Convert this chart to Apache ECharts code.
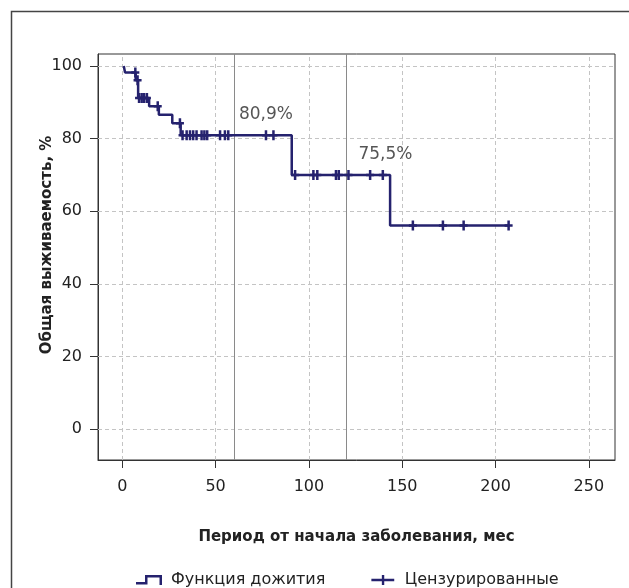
<!DOCTYPE html>
<html>
<head>
<meta charset="utf-8">
<script src="https://cdn.jsdelivr.net/npm/echarts@6/dist/echarts.min.js"></script>
<style>
html,body{margin:0;padding:0;background:#fff;}
#chart{width:629px;height:588px;}
</style>
</head>
<body>
<div id="chart"></div>
<script>
// Kaplan-Meier step function (event times, survival after event)
const kmTimes = [0.8, 1.5, 7.2, 8.5, 14.4, 19.6, 26.8, 31.3, 90.8, 143.5, 207];
const kmSurv  = [100, 98.2, 96.1, 91.2, 88.9, 86.6, 84.2, 80.9, 70.0, 56.1, 56.1];
// Censored observations
const censorTimes = [7.0, 8.2, 9.0, 10.4, 11.7, 13.2, 19.0, 30.9,
  32.3, 34.5, 36.3, 38.0, 39.8, 42.5, 44.0, 45.5, 52.4, 55.0, 56.8, 77.0, 81.0,
  92.6, 102.4, 104.5, 114.5, 116.0, 121.2, 132.8, 139.6,
  155.7, 171.8, 182.9, 207.0];
const censorSurv = [98.2, 96.1, 91.2, 91.2, 91.2, 91.2, 88.9, 84.2,
  80.9, 80.9, 80.9, 80.9, 80.9, 80.9, 80.9, 80.9, 80.9, 80.9, 80.9, 80.9, 80.9,
  70.0, 70.0, 70.0, 70.0, 70.0, 70.0, 70.0, 70.0,
  56.1, 56.1, 56.1, 56.1];
// Axis ticks
const xTicks = [0, 50, 100, 150, 200, 250];
const yTicks = [0, 20, 40, 60, 80, 100];
// Reference lines (months) and annotations
const refLines = [60, 120];
const annotTimes = [77, 141];
const annotVals = [86.5, 75.5];
const annotTexts = ['80,9%', '75,5%'];

const seriesNames = ['Функция дожития', 'Цензурированные'];
const xName = 'Период от начала заболевания, мес';
const yName = 'Общая выживаемость, %';

const navy = '#25226e';
const font = 'DejaVu Sans';
const plusPath = 'path://M2.75,0 H5.25 V3.75 H8 V6.25 H5.25 V10 H2.75 V6.25 H0 V3.75 H2.75 Z';
const stepIcon = 'path://M0,7 H9 V0 H26 V10 H23.5 V2.5 H11.5 V9.5 H0 Z';
const plusIcon = 'path://M11,0 H13.5 V4 H24 V6.5 H13.5 V10.5 H11 V6.5 H0 V4 H11 Z';

const chart = echarts.init(document.getElementById('chart'), null, {renderer: 'canvas'});

const gridLineData = xTicks.map(v => ({xAxis: v})).concat(yTicks.map(v => ({yAxis: v})));

chart.setOption({
  animation: false,
  backgroundColor: '#fff',
  textStyle: {fontFamily: font},
  grid: {left: 98, right: 14, top: 54, bottom: 128, show: true, borderColor: '#333', borderWidth: 1, backgroundColor: 'transparent', containLabel: false},
  xAxis: {
    type: 'value', min: -13, max: 264,
    name: xName, nameLocation: 'middle', nameGap: 70,
    nameTextStyle: {fontFamily: font, fontWeight: 'bold', fontSize: 15, color: '#222'},
    axisLine: {show: true, onZero: false, lineStyle: {color: '#333', width: 1}},
    axisTick: {show: true, inside: false, length: 8, customValues: xTicks, lineStyle: {color: '#333'}},
    axisLabel: {show: true, margin: 19, customValues: xTicks, fontFamily: font, fontSize: 16, color: '#222'},
    splitLine: {show: false}
  },
  yAxis: {
    type: 'value', min: -8.5, max: 103.3,
    axisLine: {show: true, onZero: false, lineStyle: {color: '#333', width: 1}},
    axisTick: {show: true, inside: false, length: 8, customValues: yTicks, lineStyle: {color: '#333'}},
    axisLabel: {show: true, margin: 16, customValues: yTicks, fontFamily: font, fontSize: 16, color: '#222'},
    splitLine: {show: false}
  },
  legend: {
    left: 131, top: 567,
    itemWidth: 26, itemHeight: 10, itemGap: 46,
    itemStyle: {borderWidth: 0},
    textStyle: {fontFamily: font, fontSize: 16, color: '#222', padding: [0, 0, 0, 4]},
    data: [
      {name: seriesNames[0], icon: stepIcon},
      {name: seriesNames[1], icon: plusIcon, itemWidth: 24}
    ]
  },
  graphic: [
    {type: 'rect', left: 9, top: 9, shape: {width: 700, height: 700}, style: {fill: 'none', stroke: '#444', lineWidth: 1.5}, silent: true},
    {type: 'text', x: 47, y: 245, rotation: Math.PI / 2,
     style: {text: yName, fontFamily: font, fontWeight: 'bold', fontSize: 15, fill: '#222', align: 'center', verticalAlign: 'middle'}}
  ],
  series: [
    {
      type: 'line', name: '_grid', data: [], z: 1, silent: true,
      markLine: {
        silent: true, symbol: 'none', animation: false,
        label: {show: false},
        lineStyle: {color: '#c4c4c4', type: [4, 3], width: 1},
        data: gridLineData
      }
    },
    {
      type: 'line', name: '_ref', data: [], z: 2, silent: true,
      markLine: {
        silent: true, symbol: 'none', animation: false,
        label: {show: false},
        lineStyle: {color: '#8a8a8a', type: 'solid', width: 1},
        data: refLines.map(v => ({xAxis: v}))
      }
    },
    {
      type: 'line', name: seriesNames[0], step: 'end', z: 5,
      showSymbol: false, symbol: 'none',
      lineStyle: {color: navy, width: 2.5},
      itemStyle: {color: navy},
      data: kmTimes.map((t, i) => [t, kmSurv[i]])
    },
    {
      type: 'scatter', name: seriesNames[1], z: 6,
      symbol: plusPath, symbolSize: [8, 10],
      itemStyle: {color: navy, opacity: 1},
      data: censorTimes.map((t, i) => [t, censorSurv[i]])
    },
    {
      type: 'scatter', name: '_annot', z: 7, symbolSize: 0, silent: true,
      label: {show: true, position: 'inside', formatter: p => annotTexts[p.dataIndex], fontFamily: font, fontSize: 17, color: '#2a2a2a'},
      data: annotTimes.map((t, i) => [t, annotVals[i]])
    }
  ]
});
</script>
</body>
</html>
